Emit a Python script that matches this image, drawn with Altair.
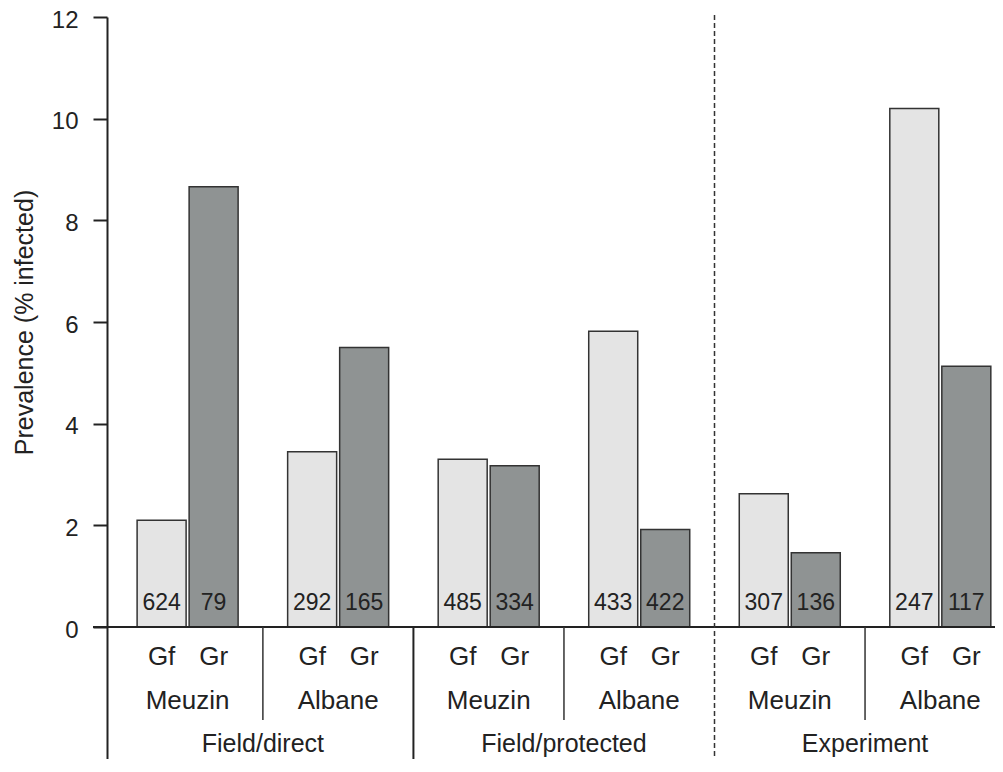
import altair as alt
import pandas as pd

FONT = "Liberation Sans"
INK = "#222222"

categories = ["Field/direct", "Field/protected", "Experiment"]
varieties = ["Meuzin", "Albane"]
types = ["Gf", "Gr"]

# order: Field/direct-Meuzin, Field/direct-Albane, Field/protected-Meuzin,
#        Field/protected-Albane, Experiment-Meuzin, Experiment-Albane
prev_gf = [2.10, 3.45, 3.30, 5.82, 2.62, 10.20]
prev_gr = [8.66, 5.50, 3.17, 1.92, 1.46, 5.13]
n_gf = [624, 292, 485, 433, 307, 247]
n_gr = [79, 165, 334, 422, 136, 117]

groups = []
group_rows = []
for c in categories:
    for v in varieties:
        g = f"{c}|{v}"
        groups.append(g)
        group_rows.append({"group": g, "category": c, "variety": v})

rows = []
for i, g in enumerate(groups):
    rows.append({"group": g, "type": "Gf", "prev": prev_gf[i], "n": n_gf[i]})
    rows.append({"group": g, "type": "Gr", "prev": prev_gr[i], "n": n_gr[i]})
bars_df = pd.DataFrame(rows)
groups_df = pd.DataFrame(group_rows)

# separators
short_sep = groups_df[groups_df["variety"] == varieties[1]]
solid_sep = groups_df[(groups_df["category"] == categories[1]) & (groups_df["variety"] == varieties[0])]
dash_sep = groups_df[(groups_df["category"] == categories[2]) & (groups_df["variety"] == varieties[0])]
cat_df = short_sep

# layout
W, H = 888, 742
ZERO_PX = 610.0                      # pixel of y=0 from the plot top
PX_PER_UNIT = ZERO_PX / 12.0
Y_MIN = -(H - ZERO_PX) / PX_PER_UNIT

P_IN, P_OUT, ALIGN = 0.329, 0.1139, 0.878
step = W / (len(groups) - P_IN + 2 * P_OUT)
half_gap = P_IN * step / 2

xscale = alt.Scale(domain=groups, paddingInner=P_IN, paddingOuter=P_OUT, align=ALIGN)
xoff = alt.Scale(domain=types, paddingInner=0.058, paddingOuter=0)
yscale = alt.Scale(domain=[Y_MIN, 12], nice=False, zero=False)

X = alt.X("group:N", scale=xscale, axis=None, sort=groups)
X0 = alt.X("group:N", scale=xscale, axis=None, sort=groups, bandPosition=0)
XO = alt.XOffset("type:N", scale=xoff, sort=types)

yaxis = alt.Axis(
    values=[0, 2, 4, 6, 8, 10, 12], grid=False,
    tickSize=14, tickWidth=2, tickColor=INK,
    domainColor=INK, domainWidth=2,
    labelFont=FONT, labelFontSize=24, labelPadding=15, labelColor=INK, labelOffset=3,
    title="Prevalence (% infected)", titleFont=FONT, titleFontSize=25,
    titleFontWeight="normal", titleColor=INK,
    titleX=-83, titleY=305, titleAngle=270, titleAlign="center", titleBaseline="middle",
)

bars = alt.Chart(bars_df).mark_bar(stroke="#333333", strokeWidth=1.5).encode(
    x=X, xOffset=XO,
    y=alt.Y("prev:Q", scale=yscale, axis=yaxis),
    y2=alt.datum(0),
    color=alt.Color("type:N", scale=alt.Scale(domain=types, range=["#e4e4e4", "#8f9393"]), legend=None),
)

baseline = alt.Chart(pd.DataFrame({"v": [0]})).mark_rule(color=INK, strokeWidth=2).encode(
    x=alt.value(-14), x2=alt.value(W + 20), y=alt.Y("v:Q", scale=yscale)
)

nums = alt.Chart(bars_df).mark_text(font=FONT, fontSize=23, color=INK, baseline="middle").encode(
    x=X, xOffset=XO, y=alt.value(586), text="n:N"
)

type_lbl = alt.Chart(bars_df).mark_text(font=FONT, fontSize=26, color=INK, baseline="middle").encode(
    x=X, xOffset=XO, y=alt.value(640), text="type:N"
)

var_lbl = alt.Chart(groups_df).mark_text(font=FONT, fontSize=26, color=INK, baseline="middle").encode(
    x=X, y=alt.value(684), text="variety:N"
)

cat_lbl = alt.Chart(cat_df).mark_text(font=FONT, fontSize=25, color=INK, baseline="middle", dx=-half_gap).encode(
    x=X0, y=alt.value(727), text="category:N"
)

short_rules = alt.Chart(short_sep).mark_rule(color="#333333", strokeWidth=1.5, xOffset=-half_gap).encode(
    x=X0, y=alt.datum(0), y2=alt.datum(-1.83),
)

solid_rules = alt.Chart(solid_sep).mark_rule(color=INK, strokeWidth=2, xOffset=-half_gap).encode(
    x=X0, y=alt.datum(0), y2=alt.value(H),
)

dash_rules = alt.Chart(dash_sep).mark_rule(color="#333333", strokeWidth=1.5, strokeDash=[5, 3], xOffset=-half_gap).encode(
    x=X0, y=alt.value(-2), y2=alt.value(H),
)

chart = alt.layer(
    bars, baseline, short_rules, solid_rules, dash_rules, nums, type_lbl, var_lbl, cat_lbl
).properties(
    width=W, height=H,
    background="white",
    autosize=alt.AutoSizeParams(type="none"),
    padding={"left": 99, "top": 9, "right": 0, "bottom": 0},
).configure_view(stroke="transparent", strokeWidth=0)

chart.save("out.html", embed_options={"renderer": "svg", "actions": False})
